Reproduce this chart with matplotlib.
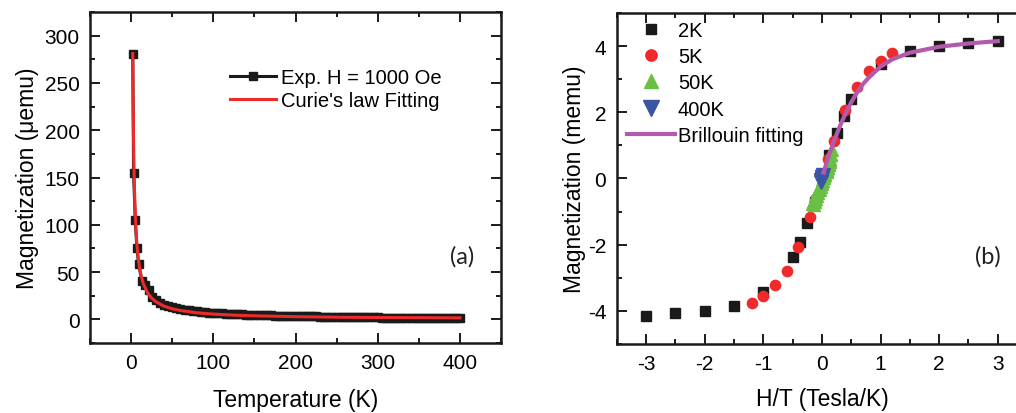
import matplotlib
matplotlib.use("Agg")
import matplotlib.pyplot as plt
from matplotlib.ticker import MultipleLocator

plt.rcParams['font.family'] = ['Liberation Sans', 'DejaVu Sans']
plt.rcParams['axes.unicode_minus'] = False

# ---- panel (a): M vs T ----
temp_exp = [2, 3, 5, 7, 9, 13, 17, 22,
            25, 30, 35, 40, 45, 50, 55, 60, 65, 70, 75, 80, 85, 90, 95, 100,
            105, 110, 115, 120, 125, 130, 135, 140, 145, 150, 155, 160, 165, 170,
            175, 180, 185, 190, 195, 200, 205, 210, 215, 220, 225, 230, 235, 240,
            245, 250, 255, 260, 265, 270, 275, 280, 285, 290, 295, 300, 305, 310,
            315, 320, 325, 330, 335, 340, 345, 350, 355, 360, 365, 370, 375, 380,
            385, 390, 395, 400]
mag_exp = [281, 155, 105, 76, 59, 41, 36, 31,
           24.0, 20.0, 17.5, 15.5, 14.0, 12.8, 11.8, 11.0, 10.2, 9.6, 9.0, 8.5, 8.0, 7.6, 7.2, 6.9,
           6.6, 6.3, 6.0, 5.8, 5.6, 5.4, 5.2, 5.0, 4.9, 4.7, 4.6, 4.5, 4.3, 4.2,
           4.1, 4.0, 3.9, 3.8, 3.7, 3.6, 3.5, 3.4, 3.3, 3.2, 3.1, 3.0, 2.95, 2.9,
           2.8, 2.7, 2.65, 2.6, 2.5, 2.45, 2.4, 2.3, 2.25, 2.2, 2.15, 2.1, 2.0, 1.95,
           1.9, 1.85, 1.8, 1.75, 1.7, 1.65, 1.6, 1.55, 1.5, 1.45, 1.4, 1.4, 1.35, 1.3,
           1.3, 1.25, 1.2, 1.2]

temp_fit = [2, 2.5, 3, 3.5, 4, 5, 6, 7, 8, 10, 12, 15, 20, 25, 30, 40, 50, 60,
            80, 100, 125, 150, 200, 250, 300, 350, 400]
mag_fit = [281, 225, 187, 160, 140, 112, 93, 80, 70, 56, 47, 37.5, 28, 22.5, 18.7,
           14, 11.2, 9.4, 7, 5.6, 4.5, 3.8, 2.9, 2.3, 2.0, 1.8, 1.6]

# ---- panel (b): M vs H/T ----
x_2k = [-3, -2.5, -2, -1.5, -1, -0.5, -0.375, -0.25, -0.125,
        0.125, 0.25, 0.375, 0.5, 1, 1.5, 2, 2.5, 3]
y_2k = [-4.14, -4.07, -4.01, -3.84, -3.42, -2.38, -1.91, -1.35, -0.7,
        0.7, 1.36, 1.89, 2.39, 3.45, 3.85, 4.0, 4.1, 4.15]

x_5k = [-1.2, -1.0, -0.8, -0.6, -0.4, -0.2, -0.1, 0.1, 0.2, 0.4, 0.6, 0.8, 1.0, 1.2]
y_5k = [-3.76, -3.54, -3.22, -2.78, -2.08, -1.15, -0.6, 0.6, 1.14, 2.06, 2.77, 3.25, 3.55, 3.78]

# 50K: two sweeps, slightly apart
x_50k = [-0.17, -0.155, -0.14, -0.125, -0.11, -0.095, -0.08, -0.065, -0.05, -0.035,
         -0.02, -0.005, 0.01, 0.025, 0.04, 0.055, 0.07, 0.085, 0.1, 0.115, 0.13, 0.145, 0.16,
         -0.14, -0.12, -0.10, -0.08, -0.06, -0.04, -0.02, 0.0, 0.02, 0.04, 0.06,
         0.08, 0.10, 0.12, 0.14, 0.16, 0.18]
y_50k = [-0.78, -0.72, -0.66, -0.60, -0.54, -0.48, -0.42, -0.36, -0.30, -0.24,
         -0.18, -0.12, -0.06, 0.0, 0.06, 0.12, 0.19, 0.26, 0.33, 0.41, 0.50, 0.60, 0.70,
         -0.80, -0.72, -0.63, -0.54, -0.45, -0.36, -0.27, -0.18, -0.09, 0.0, 0.10,
         0.20, 0.31, 0.43, 0.56, 0.70, 0.86]

x_400k = [-0.02, -0.01, 0.0, 0.01, 0.02]
y_400k = [-0.1, -0.05, 0.0, 0.05, 0.1]

x_bri = [0.03, 0.1, 0.2, 0.3, 0.4, 0.5, 0.6, 0.7, 0.8, 1.0, 1.2, 1.5, 2.0, 2.5, 3.0]
y_bri = [0.18, 0.6, 1.1, 1.55, 1.95, 2.3, 2.6, 2.85, 3.05, 3.38, 3.6, 3.8, 3.98, 4.08, 4.15]

fig = plt.figure(figsize=(10.16, 4.14), dpi=100)
ax1 = fig.add_axes([0.0886, 0.169, 0.4045, 0.7995])
ax2 = fig.add_axes([0.607, 0.1667, 0.4039, 0.7995])


def style(ax):
    for s in ax.spines.values():
        s.set_linewidth(1.8)
        s.set_color('#1a1a1a')
    ax.tick_params(which='both', direction='in', top=True, right=True,
                   width=1.4, color='#1a1a1a', labelsize=15, pad=7.5)
    ax.tick_params(which='major', length=7)
    ax.tick_params(which='minor', length=3.5)


ax1.plot(temp_exp, mag_exp, color='#1a1a1a', lw=2.2, marker='s', ms=5.2,
         mec='#1a1a1a', mfc='#1a1a1a', label='Exp. H = 1000 Oe')
ax1.plot(temp_fit, mag_fit, color='#ee2a2a', lw=2.2, label="Curie's law Fitting")
ax1.set_xlim(-50, 450)
ax1.set_ylim(-25, 325)
ax1.xaxis.set_major_locator(MultipleLocator(100))
ax1.xaxis.set_minor_locator(MultipleLocator(50))
ax1.yaxis.set_major_locator(MultipleLocator(50))
ax1.yaxis.set_minor_locator(MultipleLocator(25))
style(ax1)
ax1.set_xlabel('Temperature (K)', fontsize=16.5, labelpad=11.5)
ax1.set_ylabel('Magnetization (\u03bcemu)', fontsize=16.5, labelpad=4)
ax1.legend(loc='upper left', bbox_to_anchor=(0.34, 0.83), frameon=False,
           fontsize=14.5, handlelength=2.3, handletextpad=0.25,
           labelspacing=0.2, borderpad=0, borderaxespad=0)
ax1.text(0.905, 0.265, '(a)', transform=ax1.transAxes, fontsize=17,
         family='Lato', ha='center', va='center', color='#222222')

ax2.plot(x_2k, y_2k, ls='none', marker='s', ms=6.8, color='#1a1a1a', label='2K', zorder=3)
ax2.plot(x_5k, y_5k, ls='none', marker='o', ms=7.4, color='#ee2a2a', label='5K', zorder=4)
ax2.plot(x_50k, y_50k, ls='none', marker='^', ms=9, color='#6abf45', label='50K', zorder=5)
ax2.plot(x_400k, y_400k, ls='none', marker='v', ms=10, color='#3a55a4', label='400K', zorder=6)
ax2.plot(x_bri, y_bri, color='#b35aad', lw=3, label='Brillouin fitting', zorder=7)
ax2.set_xlim(-3.5, 3.5)
ax2.set_ylim(-5, 5)
ax2.xaxis.set_major_locator(MultipleLocator(1))
ax2.xaxis.set_minor_locator(MultipleLocator(0.5))
ax2.yaxis.set_major_locator(MultipleLocator(2))
ax2.yaxis.set_minor_locator(MultipleLocator(1))
style(ax2)
ax2.set_xlabel('H/T (Tesla/K)', fontsize=16.5, labelpad=10)
ax2.set_ylabel('Magnetization (memu)', fontsize=16.5, labelpad=1)
ax2.legend(loc='upper left', bbox_to_anchor=(0.025, 0.976), frameon=False,
           fontsize=14.5, handlelength=2.38, handletextpad=0.15, labelspacing=0.36,
           borderpad=0, borderaxespad=0, markerscale=1.1)
ax2.text(0.905, 0.265, '(b)', transform=ax2.transAxes, fontsize=17,
         family='Lato', ha='center', va='center', color='#222222')

fig.savefig('out.png', dpi=100)
